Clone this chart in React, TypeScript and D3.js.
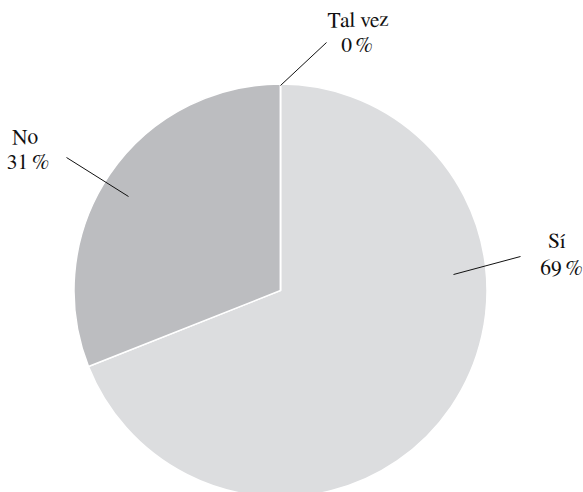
import React from "react";
import * as d3 from "d3";

const categories = ["Sí", "No", "Tal vez"];
const values = [69, 31, 0];
const percentLabels = ["69\u2009%", "31\u2009%", "0\u2009%"];
const colors = ["#dcdddf", "#bcbdc0", "#a0a0a4"];

// label layout (pixel offsets relative to pie center)
const labelLayout = [
  { line: [[173, -16], [240, -34]], name: [276.5, -42.5], pct: [281, -15.5] },
  { line: [[-152, -94], [-214, -133]], name: [-255.5, -146.5], pct: [-252.5, -121.5] },
  { line: [[0, -205], [46, -248]], name: [77.5, -263.5], pct: [76.5, -238.5] },
];

const FONT = "FreeSerif, Liberation Serif, serif";

export default function App() {
  const W = 583, H = 492;
  const cx = 280.5, cy = 290.5, r = 206.5;
  const pie = d3.pie<number>().sort(null).value((d) => d)(values);
  const arc = d3.arc<d3.PieArcDatum<number>>().innerRadius(0).outerRadius(r);
  return (
    <svg width={W} height={H} style={{ position: "absolute", left: 0, top: 0, background: "#fff" }}>
      <g transform={`translate(${cx},${cy})`}>
        {pie.map((p, i) => (
          <path key={i} d={arc(p) || ""} fill={colors[i]} stroke="#fff" strokeWidth={1.5} />
        ))}
        {labelLayout.map((l, i) => (
          <g key={i}>
            <line x1={l.line[0][0]} y1={l.line[0][1]} x2={l.line[1][0]} y2={l.line[1][1]} stroke="#111" strokeWidth={1} />
            <text x={l.name[0]} y={l.name[1]} textAnchor="middle" fill="#111" style={{ fontFamily: FONT, fontSize: 21.5 }}>
              {categories[i]}
            </text>
            <text x={l.pct[0]} y={l.pct[1]} textAnchor="middle" fill="#111" style={{ fontFamily: FONT, fontSize: 21.5 }}>
              {percentLabels[i]}
            </text>
          </g>
        ))}
      </g>
    </svg>
  );
}
